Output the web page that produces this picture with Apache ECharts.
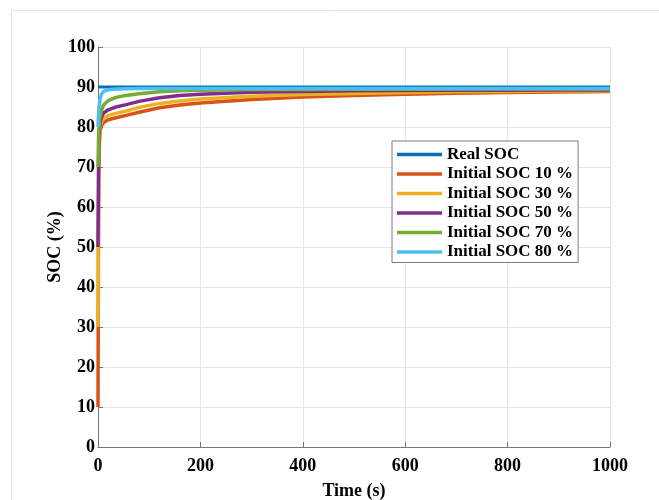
<!DOCTYPE html>
<html>
<head>
<meta charset="utf-8">
<script src="https://cdn.jsdelivr.net/npm/echarts@6/dist/echarts.min.js"></script>
<style>
  html, body { margin: 0; padding: 0; background: #fff; }
  #main { width: 659px; height: 500px; }
</style>
</head>
<body>
<div id="main"></div>
<script>
// time samples (s)
var times = [0, 1, 2, 4, 7, 11, 20, 35, 55, 80, 120, 160, 200, 300, 400, 500, 600, 700, 800, 900, 1000];

// SOC estimates (%) for each initial value
var realSoc = [90, 90, 90, 90, 90, 90, 90, 90, 90, 90, 90, 90, 90, 90, 90, 90, 90, 90, 90, 90, 90];
var soc10 = [10, 55, 74, 79, 80.3, 81.1, 81.8, 82.3, 82.9, 83.7, 84.8, 85.5, 86, 86.9, 87.5, 87.9, 88.2, 88.45, 88.6, 88.75, 88.85];
var soc30 = [30, 62, 76, 80, 81.3, 82.2, 82.9, 83.4, 84, 84.9, 85.9, 86.5, 87, 87.7, 88.1, 88.4, 88.6, 88.8, 88.9, 89, 89.05];
var soc50 = [50, 70, 78, 81, 82.5, 83.5, 84.3, 85, 85.6, 86.4, 87.3, 87.9, 88.2, 88.7, 88.9, 89.05, 89.15, 89.2, 89.2, 89.25, 89.25];
var soc70 = [70, 77, 80, 82.5, 84.3, 85.5, 86.6, 87.4, 87.9, 88.3, 88.8, 89.05, 89.2, 89.35, 89.4, 89.45, 89.45, 89.5, 89.5, 89.5, 89.5];
var soc80 = [80, 83, 85, 87, 88.3, 88.9, 89.3, 89.5, 89.55, 89.6, 89.6, 89.6, 89.6, 89.65, 89.65, 89.65, 89.65, 89.65, 89.65, 89.65, 89.65];

var names = ['Real SOC', 'Initial SOC 10 %', 'Initial SOC 30 %', 'Initial SOC 50 %', 'Initial SOC 70 %', 'Initial SOC 80 %'];
var colors = ['#0072BD', '#D95319', '#EDB120', '#7E2F8E', '#77AC30', '#4DBEEE'];
var allValues = [realSoc, soc10, soc30, soc50, soc70, soc80];

function pairs(vals) {
  return times.map(function (t, i) { return [t, vals[i]]; });
}

var font = 'Liberation Serif';
var chart = echarts.init(document.getElementById('main'));

chart.setOption({
  backgroundColor: '#fff',
  animation: false,
  color: colors,
  graphic: [{
    type: 'rect',
    shape: { x: 11.5, y: 10.5, width: 700, height: 600 },
    style: { fill: 'none', stroke: '#e3e3e3', lineWidth: 1 },
    z: -1
  }],
  grid: { left: 98, right: 49, top: 47, bottom: 53, outerBoundsMode: 'none' },
  legend: {
    data: names,
    orient: 'vertical',
    left: 392,
    top: 141,
    icon: 'rect',
    itemWidth: 45,
    itemHeight: 3.5,
    itemGap: 2.5,
    padding: [5, 5, 2, 5],
    backgroundColor: '#fff',
    borderColor: '#7a7a7a',
    borderWidth: 1,
    borderRadius: 0,
    textStyle: { fontFamily: font, fontWeight: 'bold', fontSize: 17, color: '#000', lineHeight: 16 }
  },
  xAxis: {
    type: 'value',
    min: 0,
    max: 1000,
    interval: 200,
    name: 'Time (s)',
    nameLocation: 'middle',
    nameGap: 35,
    nameMoveOverlap: false,
    nameTextStyle: { fontFamily: font, fontWeight: 'bold', fontSize: 18, color: '#000' },
    axisLine: { lineStyle: { color: '#777', width: 1 } },
    axisTick: { inside: true, length: 5, lineStyle: { color: '#777' } },
    axisLabel: {
      fontFamily: font, fontWeight: 'bold', fontSize: 18, color: '#000', margin: 10,
      formatter: function (v) { return String(v); }
    },
    splitLine: { show: true, lineStyle: { color: '#e6e6e6' } }
  },
  yAxis: {
    type: 'value',
    min: 0,
    max: 100,
    interval: 10,
    name: 'SOC (%)',
    nameLocation: 'middle',
    nameGap: 34,
    nameMoveOverlap: false,
    nameTextStyle: { fontFamily: font, fontWeight: 'bold', fontSize: 18, color: '#000' },
    axisLine: { show: true, lineStyle: { color: '#777', width: 1 } },
    axisTick: { show: true, inside: true, length: 5, lineStyle: { color: '#777' } },
    axisLabel: { fontFamily: font, fontWeight: 'bold', fontSize: 18, color: '#000', margin: 3 },
    splitLine: { show: true, lineStyle: { color: '#e6e6e6' } }
  },
  series: allValues.map(function (vals, i) {
    return {
      name: names[i],
      type: 'line',
      data: pairs(vals),
      showSymbol: false,
      symbol: 'none',
      lineStyle: { width: i === 0 ? 3 : 3.5, color: colors[i] },
      itemStyle: { color: colors[i] }
    };
  })
});
</script>
</body>
</html>
